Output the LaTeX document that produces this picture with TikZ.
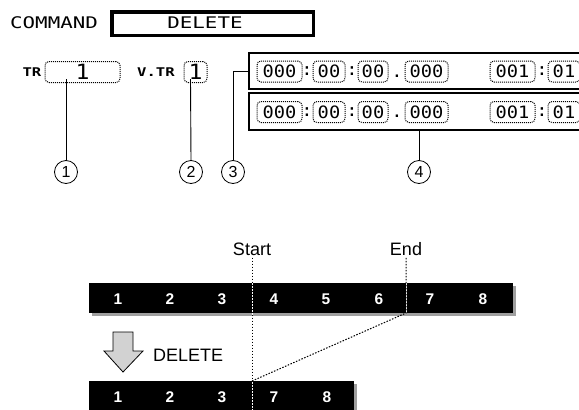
\documentclass[tikz,border=0pt]{standalone}
\usepackage{fontspec}
\setmainfont{Liberation Sans}
\newfontfamily\lcdA[FakeStretch=1.3]{DejaVu Sans Mono}
\newfontfamily\lcdB[FakeStretch=1.1]{DejaVu Sans Mono}
\usetikzlibrary{shadows}
\begin{document}
\begin{tikzpicture}[x=1pt,y=-1pt,
  lcdbig/.style={inner sep=0pt,font=\lcdA\fontsize{16}{16}\selectfont},
  lcdsmall/.style={inner sep=0pt,font=\lcdA\bfseries\fontsize{12}{12}\selectfont},
  lcdone/.style={inner sep=0pt,font=\lcdB\fontsize{21}{21}\selectfont},
  lcddig/.style={inner sep=0pt,font=\lcdB\fontsize{17}{17}\selectfont},
  field/.style={draw,line width=1pt,dash pattern=on 1pt off 1pt,rounded corners=4pt,
    minimum height=21pt,inner sep=0pt},
  timebox/.style={draw,line width=1.3pt,fill=white,minimum width=351pt,inner sep=0pt},
  leader/.style={line width=0.9pt},
  circnum/.style={circle,draw,line width=0.8pt,minimum size=23pt,inner sep=0pt,
    font=\fontsize{16}{16}\selectfont},
  bar/.style={fill=black,minimum height=30pt,inner sep=0pt,
    drop shadow={shadow xshift=3pt,shadow yshift=-3pt,fill=gray!75,opacity=1}},
  barnum/.style={text=white,inner sep=0pt,font=\bfseries\fontsize{15.5}{15.5}\selectfont},
  label/.style={inner sep=2pt,font=\fontsize{18}{18}\selectfont},
  cutline/.style={line width=1pt,dash pattern=on 1.5pt off 1.5pt}
]
\clip (0,0) rectangle (579,410);
\useasboundingbox (0,0) rectangle (579,410);

% --- COMMAND line
\node[lcdbig,anchor=west] (cmd) at (10,22.5) {COMMAND};
\node[draw,line width=3.5pt,minimum width=201.5pt,minimum height=23.5pt,inner sep=0pt] (cmdbox) at (212.5,23.5) {};
\node[lcdbig] (cmdval) at (205,22.5) {DELETE};

% --- TR / V.TR
\node[lcdsmall] (trlab) at (32,72.5) {TR};
\node[field,minimum width=75pt] (trbox) at (82.5,72) {};
\node[lcdone] (trval) at (82.5,72) {1};
\node[lcdsmall] (vtrlab) at (156,72.5) {V.TR};
\node[field,minimum width=23pt] (vtrbox) at (195.5,72) {};
\node[lcdone] (vtrval) at (195.5,72) {1};

% --- time boxes
\node[timebox,minimum height=36pt] (box3) at (424.5,71) {};
\node[timebox,minimum height=37pt] (box4) at (424.5,111.5) {};
\foreach \r/\yy in {3/71.5,4/112}{
  \node[field,minimum width=45pt] (f1-\r) at (279.5,\yy) {};
  \node[lcddig] at (f1-\r) {000};
  \node[lcddig] (s1-\r) at (307,\yy) {:};
  \node[field,minimum width=32pt] (f2-\r) at (329,\yy) {};
  \node[lcddig] at (f2-\r) {00};
  \node[lcddig] (s2-\r) at (352,\yy) {:};
  \node[field,minimum width=30pt] (f3-\r) at (373,\yy) {};
  \node[lcddig] at (f3-\r) {00};
  \node[lcddig,anchor=south] (s3-\r) at (397,\yy+6) {.};
  \node[field,minimum width=43pt] (f4-\r) at (426.5,\yy) {};
  \node[lcddig] at (f4-\r) {000};
  \node[field,minimum width=45pt] (f5-\r) at (512.5,\yy) {};
  \node[lcddig] at (f5-\r) {001};
  \node[lcddig] (s4-\r) at (542,\yy) {:};
  \node[field,minimum width=32pt] (f6-\r) at (564,\yy) {};
  \node[lcddig] at (f6-\r) {01};
}

% --- callouts
\node[circnum] (c1) at (66,172) {1};
\node[circnum] (c2) at (191,172) {2};
\node[circnum] (c3) at (233,172) {3};
\node[circnum] (c4) at (419,172) {4};
\coordinate (l1) at (66,79);
\coordinate (l2) at (190.5,79);
\draw[leader] (l1) -- (c1.north);
\draw[leader] (l2) -- (c2.north);
\draw[leader] (box3.west) -| (c3.north);
\draw[leader] (c4.north) -- (c4.north |- box4.south);

% --- bars
\node[bar,minimum width=424pt] (bar1) at (301,298) {};
\foreach \n/\x in {1/118,2/170,3/222,4/274,5/326,6/379,7/430,8/483}
  \node[barnum] (a\n) at (\x,299.5) {\n};
\node[bar,minimum width=265pt] (bar2) at (221.5,396) {};
\foreach \n/\x in {1/118,2/170,3/222,7/274,8/327}
  \node[barnum] (b\n) at (\x,397.5) {\n};

% --- start / end markers
\node[label] (start) at (252,249) {Start};
\node[label] (end) at (406,249) {End};
\coordinate (sbot) at (252,412);
\coordinate (ecut) at (406,313);
\coordinate (scut) at (252,381);
\draw[white,line width=1pt] (start.south) -- (sbot);
\draw[cutline] (start.south) -- (sbot);
\draw[white,line width=1pt] (end.south) -- (ecut);
\draw[cutline] (end.south) -- (ecut) -- (scut);

% --- DELETE arrow
\draw[line width=0.8pt,fill=gray!35] (113,332) -- (133,332) -- (133,351) -- (143,351)
  -- (123,372) -- (104,351) -- (113,351) -- cycle;
\node[label,anchor=west] (del) at (151,355) {DELETE};
\end{tikzpicture}
\end{document}
